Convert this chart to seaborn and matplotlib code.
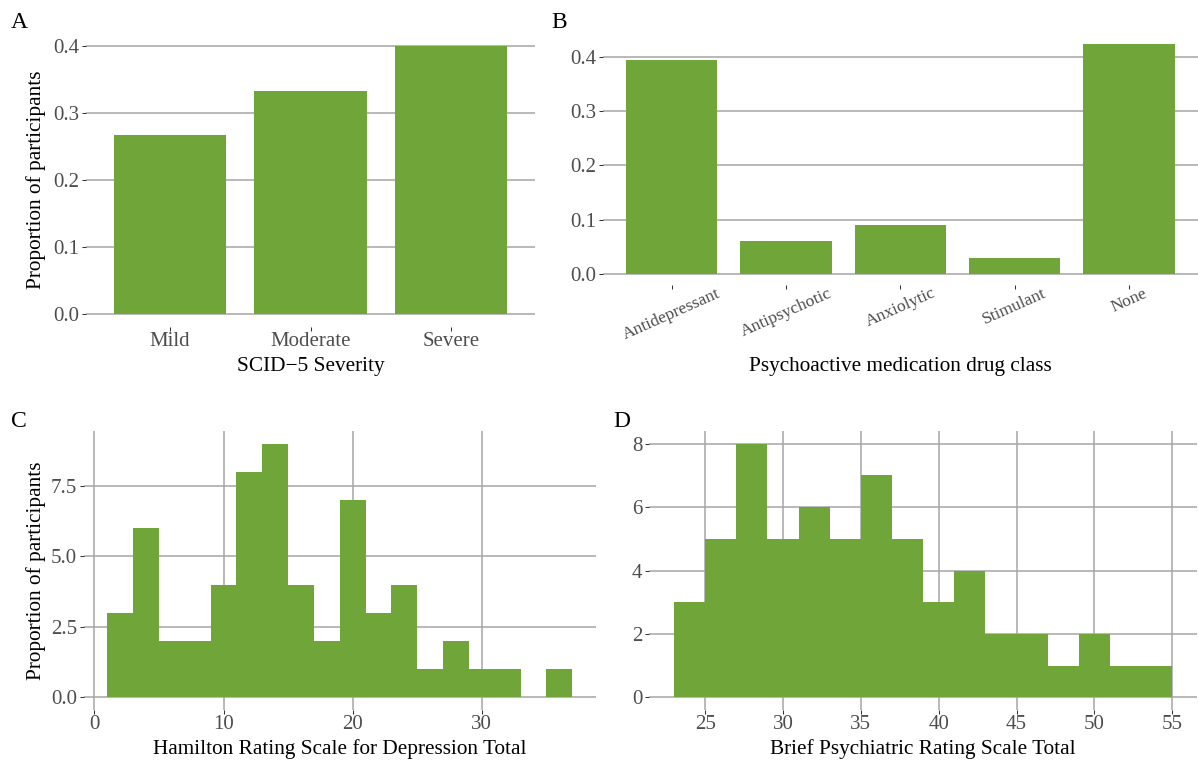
import numpy as np
import pandas as pd
import matplotlib
matplotlib.use("Agg")
import matplotlib.pyplot as plt
import seaborn as sns

# ---------------- data ----------------
severity_labels = ["Mild", "Moderate", "Severe"]
severity_props = [0.267, 0.333, 0.400]

drug_labels = ["Antidepressant", "Antipsychotic", "Anxiolytic", "Stimulant", "None"]
drug_props = [0.394, 0.061, 0.091, 0.030, 0.424]

hamd_edges = [1, 3, 5, 7, 9, 11, 13, 15, 17, 19, 21, 23, 25, 27, 29, 31, 33, 35, 37]
hamd_counts = [3, 6, 2, 2, 4, 8, 9, 4, 2, 7, 3, 4, 1, 2, 1, 1, 0, 1]

bprs_edges = [23, 25, 27, 29, 31, 33, 35, 37, 39, 41, 43, 45, 47, 49, 51, 53, 55]
bprs_counts = [3, 5, 8, 5, 6, 5, 7, 5, 3, 4, 2, 2, 1, 2, 1, 1]

hamd_ticks = [0, 10, 20, 30]
hamd_yticks = [0, 2.5, 5, 7.5]
hamd_yticklabels = ["0.0", "2.5", "5.0", "7.5"]
bprs_ticks = [25, 30, 35, 40, 45, 50, 55]
bprs_yticks = [0, 2, 4, 6, 8]
prop_yticks_a = [0.0, 0.1, 0.2, 0.3, 0.4]
prop_yticks_b = [0.0, 0.1, 0.2, 0.3, 0.4]

# ---------------- style ----------------
sns.set_theme(style="white")
plt.rcParams["font.family"] = ["Liberation Serif", "DejaVu Serif"]

GREEN = "#70A53A"
GRID = "#A5A5A5"
TICKLAB = "#4D4D4D"
TICK_FS = 15
TITLE_FS = 15.3
PANEL_FS = 17

W, H = 1198, 763
fig = plt.figure(figsize=(W / 100, H / 100), dpi=100)


def add_ax(left, right, top, bottom):
    return fig.add_axes([left / W, 1 - bottom / H, (right - left) / W, (bottom - top) / H])


def style(ax, grid_axis):
    for s in ax.spines.values():
        s.set_visible(False)
    ax.set_axisbelow(True)
    ax.grid(False)
    ax.grid(True, axis=grid_axis, color=GRID, linewidth=1.1)
    ax.tick_params(axis="both", which="major", length=2.9, width=0.75, color="#333333",
                   labelcolor=TICKLAB, labelsize=TICK_FS, pad=2,
                   bottom=True, left=True)
    ax.tick_params(axis="x", pad=0.5)


# ---------------- Panel A ----------------
axA = add_ax(86, 535, 32.6, 327.4)
sns.barplot(x=severity_labels, y=severity_props, color=GREEN, saturation=1,
            width=0.8, ax=axA, linewidth=0)
axA.set_xlim(-0.6, len(severity_labels) - 0.4)
axA.set_ylim(-0.02, 0.42)
axA.set_yticks(prop_yticks_a)
axA.set_yticklabels([f"{v:.1f}" for v in prop_yticks_a])
style(axA, "y")
axA.set_xlabel("SCID\u22125 Severity", fontsize=TITLE_FS, color="black", va="center")
axA.xaxis.set_label_coords(0.5, -0.131)
axA.set_ylabel("Proportion of participants", fontsize=TITLE_FS, color="black", va="center")
axA.yaxis.set_label_coords(-0.111, 0.5)

# ---------------- Panel B ----------------
axB = add_ax(603, 1197.6, 32.3, 285.5)
sns.barplot(x=drug_labels, y=drug_props, color=GREEN, saturation=1,
            width=0.8, ax=axB, linewidth=0)
axB.set_xlim(-0.6, len(drug_labels) - 0.4)
axB.set_ylim(-0.0212, 0.4455)
axB.set_yticks(prop_yticks_b)
axB.set_yticklabels([f"{v:.1f}" for v in prop_yticks_b])
style(axB, "y")
axB.tick_params(axis="x", labelrotation=24, labelsize=12.6, pad=-3)
for lbl in axB.get_xticklabels():
    lbl.set_ha("center")
axB.set_xlabel("Psychoactive medication drug class", fontsize=TITLE_FS, color="black", va="center")
axB.xaxis.set_label_coords(0.5, -0.318)
axB.set_ylabel("")

# ---------------- Panel C ----------------
axC = add_ax(84, 595.5, 431, 710)
hamd_mid = [(a + b) / 2 for a, b in zip(hamd_edges[:-1], hamd_edges[1:])]
sns.histplot(x=hamd_mid, weights=hamd_counts, bins=hamd_edges, color=GREEN,
             alpha=1, linewidth=0, edgecolor=GREEN, ax=axC)
axC.set_xlim(-0.8, 38.8)
axC.set_ylim(-0.45, 9.45)
axC.set_xticks(hamd_ticks)
axC.set_yticks(hamd_yticks)
axC.set_yticklabels(hamd_yticklabels)
style(axC, "both")
axC.set_xlabel("Hamilton Rating Scale for Depression Total", fontsize=TITLE_FS, color="black", va="center")
axC.xaxis.set_label_coords(0.5, -0.140)
axC.set_ylabel("Proportion of participants", fontsize=TITLE_FS, color="black", va="center")
axC.yaxis.set_label_coords((36 - 84) / 511.5, 0.5)

# ---------------- Panel D ----------------
axD = add_ax(649, 1197.3, 431, 710)
bprs_mid = [(a + b) / 2 for a, b in zip(bprs_edges[:-1], bprs_edges[1:])]
sns.histplot(x=bprs_mid, weights=bprs_counts, bins=bprs_edges, color=GREEN,
             alpha=1, linewidth=0, edgecolor=GREEN, ax=axD)
axD.set_xlim(21.4, 56.6)
axD.set_ylim(-0.4, 8.4)
axD.set_xticks(bprs_ticks)
axD.set_yticks(bprs_yticks)
style(axD, "both")
axD.set_xlabel("Brief Psychiatric Rating Scale Total", fontsize=TITLE_FS, color="black", va="center")
axD.xaxis.set_label_coords(0.5, -0.140)
axD.set_ylabel("")

# ---------------- panel letters ----------------
for letter, (px, py) in {"A": (19.5, 22.5), "B": (559.5, 22.5),
                         "C": (18.5, 421), "D": (621.5, 421)}.items():
    fig.text(px / W, 1 - py / H, letter, fontsize=PANEL_FS, color="black",
             ha="center", va="center")

fig.savefig("out.png", dpi=100, facecolor="white")
